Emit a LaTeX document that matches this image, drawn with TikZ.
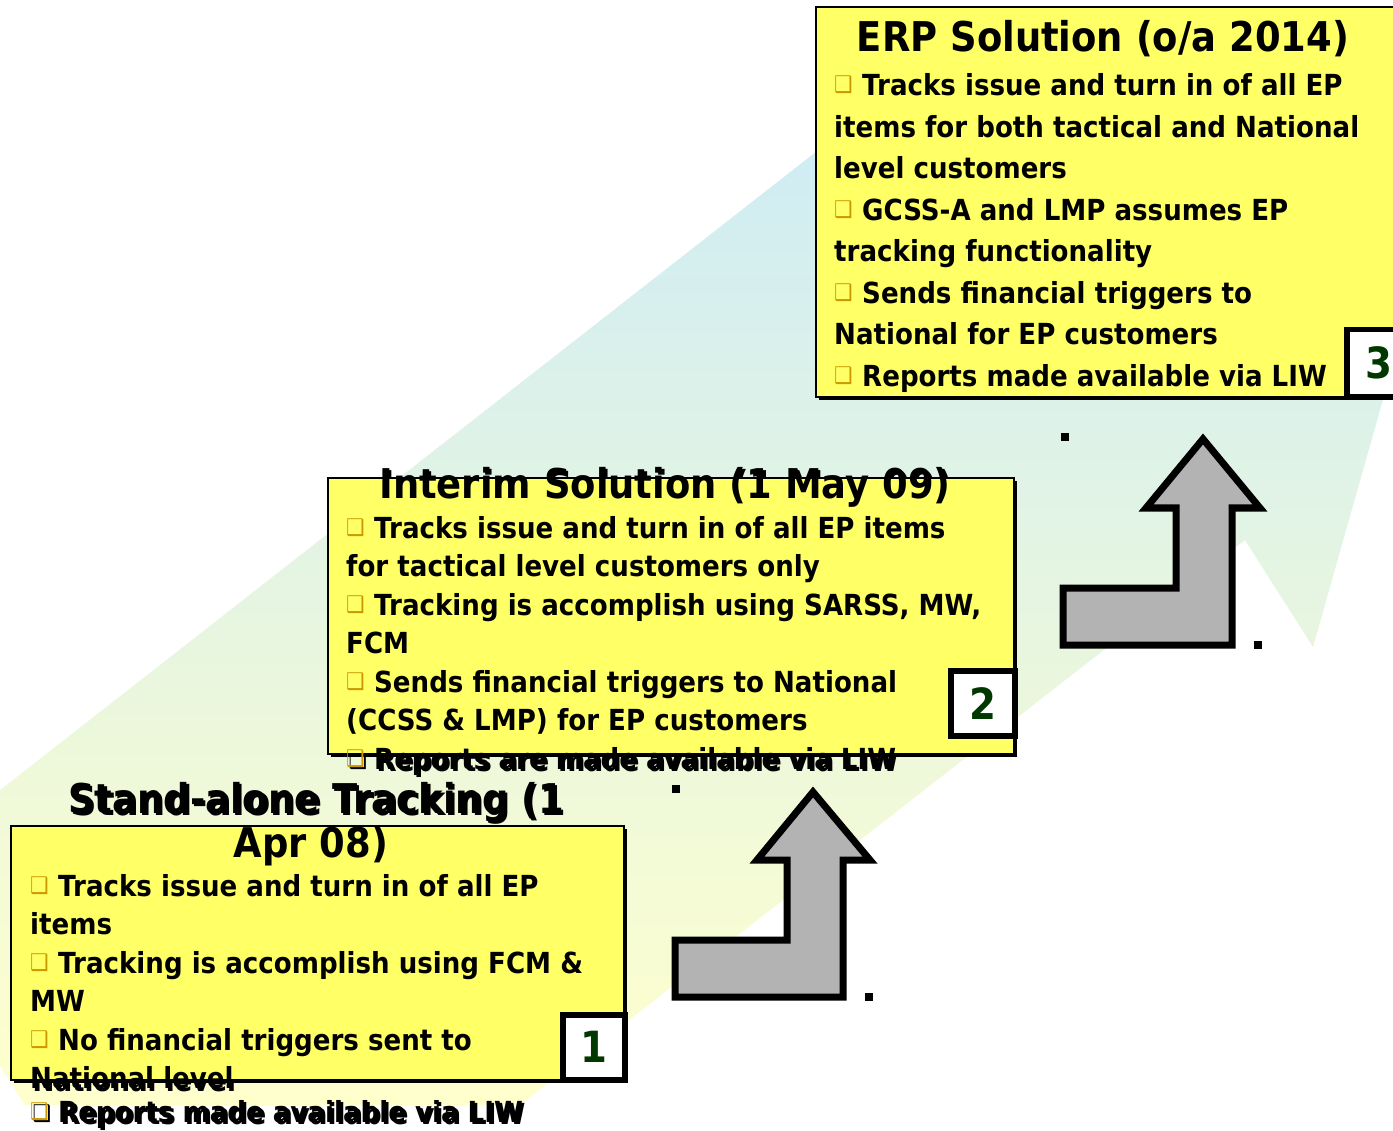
\documentclass[tikz,border=0pt]{standalone}
\usepackage{fontspec}
\setmainfont{DejaVu Sans}[FakeStretch=0.9]
\usetikzlibrary{shadows}

\definecolor{boxyellow}{RGB}{255,255,102}
\definecolor{bulletgold}{RGB}{204,153,0}
\definecolor{numgreen}{RGB}{0,56,0}
\definecolor{arrowgray}{RGB}{179,179,179}
\definecolor{bandtop}{RGB}{206,236,245}
\definecolor{bandmid}{RGB}{224,243,230}
\definecolor{bandbot}{RGB}{255,255,204}

\newcommand{\bulcol}{bulletgold}
\newcommand{\bul}{\makebox[28pt][l]{\raisebox{3pt}{\fontsize{23}{23}\selectfont\textcolor{\bulcol}{❑}}}}

\tikzset{
  stagebox/.style={draw=black, line width=2pt, fill=boxyellow, anchor=north west,
    inner sep=0pt, drop shadow={shadow xshift=3pt, shadow yshift=-3pt, fill=black, opacity=1}},
  numbox/.style={draw=black, line width=5.5pt, fill=white, anchor=north west, inner sep=0pt,
    text=numgreen, font=\fontsize{43}{43}\selectfont\bfseries},
  bodytext/.style={anchor=base west, inner sep=0pt, font=\fontsize{29}{35}\selectfont\bfseries},
  titletext/.style={anchor=base, inner sep=0pt, font=\fontsize{41}{44}\selectfont\bfseries},
  textshadow/.style={xshift=2.5pt, yshift=-2.5pt, text=black, execute at begin node={\def\bulcol{black}}},
  steparrow/.style={draw=black, line width=7pt, fill=arrowgray, line join=miter},
}

\begin{document}
\begin{tikzpicture}[x=1pt, y=-1pt]
  \useasboundingbox (0,0) rectangle (1393,1131);
  \fill[white] (0,0) rectangle (1393,1131);
  \clip (0,0) rectangle (1393,1131);

  % rising band behind the stages
  \begin{scope}
    \clip (-10,798) -- (1634,-488) -- (1313,647) -- (1245,540) -- (520,1105)
      -- (25,1105) -- (-10,1050) -- cycle;
    \shade[top color=bandtop, middle color=bandmid, bottom color=bandbot]
      (0,120) rectangle (1393,1105);
  \end{scope}

  % text shadows, only seen outside the boxes
  \node[titletext, textshadow] (sh1) at (316,813) {Stand-alone Tracking (1};
  \node[bodytext, textshadow] (sh2) at (30,1088.5) {National level};
  \node[bodytext, textshadow] (sh3) at (30,1122) {\bul Reports made available via LIW};
  \node[titletext, textshadow] (sh4) at (665,498) {Interim Solution (1 May 09)};
  \node[bodytext, textshadow] (sh5) at (346,769) {\bul Reports are made available via LIW};

  % stage boxes
  \node[stagebox, minimum width=613pt, minimum height=254pt] (stand) at (10,825) {};
  \node[stagebox, minimum width=686pt, minimum height=276pt] (interim) at (327,477) {};
  \node[stagebox, minimum width=600pt, minimum height=390pt] (erp) at (815,6) {};

  % step arrows
  \draw[steparrow] (675,940) -- (787,940) -- (787,860) -- (757,860) -- (813,792)
    -- (870,860) -- (843,860) -- (843,997) -- (675,997) -- cycle;
  \draw[steparrow] (1063,588) -- (1176,588) -- (1176,508) -- (1146,508) -- (1203,439)
    -- (1260,508) -- (1232,508) -- (1232,645) -- (1063,645) -- cycle;
  \fill (672,785) rectangle ++(8,8);
  \fill (865,993) rectangle ++(8,8);
  \fill (1061,433) rectangle ++(8,8);
  \fill (1254,641) rectangle ++(8,8);

  % stage 1
  \node[titletext] (standtitle) at (316,813) {Stand-alone Tracking (1};
  \node[titletext] (standtitleb) at (311,857) {Apr 08)};
  \foreach \txt [count=\i] in {{\bul Tracks issue and turn in of all EP}, items,
      {\bul Tracking is accomplish using FCM \&}, MW, {\bul No financial triggers sent to},
      National level}
    \node[bodytext] (stand-\i) at (30,{896+38.5*(\i-1)}) {\txt};
  \node[bodytext] (stand-7) at (30,1122) {\bul Reports made available via LIW};
  \node[numbox, minimum width=62pt, minimum height=65pt] (num1) at (560,1012) {1};

  % stage 2
  \node[titletext] (interimtitle) at (665,498) {Interim Solution (1 May 09)};
  \foreach \txt [count=\i] in {{\bul Tracks issue and turn in of all EP items},
      for tactical level customers only, {\bul Tracking is accomplish using SARSS, MW,},
      FCM, {\bul Sends financial triggers to National}, {(CCSS \& LMP) for EP customers},
      {\bul Reports are made available via LIW}}
    \node[bodytext] (interim-\i) at (346,{538+38.5*(\i-1)}) {\txt};
  \node[numbox, minimum width=64pt, minimum height=65pt] (num2) at (948,668) {2};

  % stage 3
  \node[titletext] (erptitle) at (1103,52) {ERP Solution (o/a 2014)};
  \foreach \txt [count=\i] in {{\bul Tracks issue and turn in of all EP},
      items for both tactical and National, level customers,
      {\bul GCSS-A and LMP assumes EP}, tracking functionality,
      {\bul Sends financial triggers to}, National for EP customers,
      {\bul Reports made available via LIW}}
    \node[bodytext] (erp-\i) at (834,{96+41.5*(\i-1)}) {\txt};
  \node[numbox, minimum width=64pt, minimum height=67pt] (num3) at (1344,327) {3};
\end{tikzpicture}
\end{document}
